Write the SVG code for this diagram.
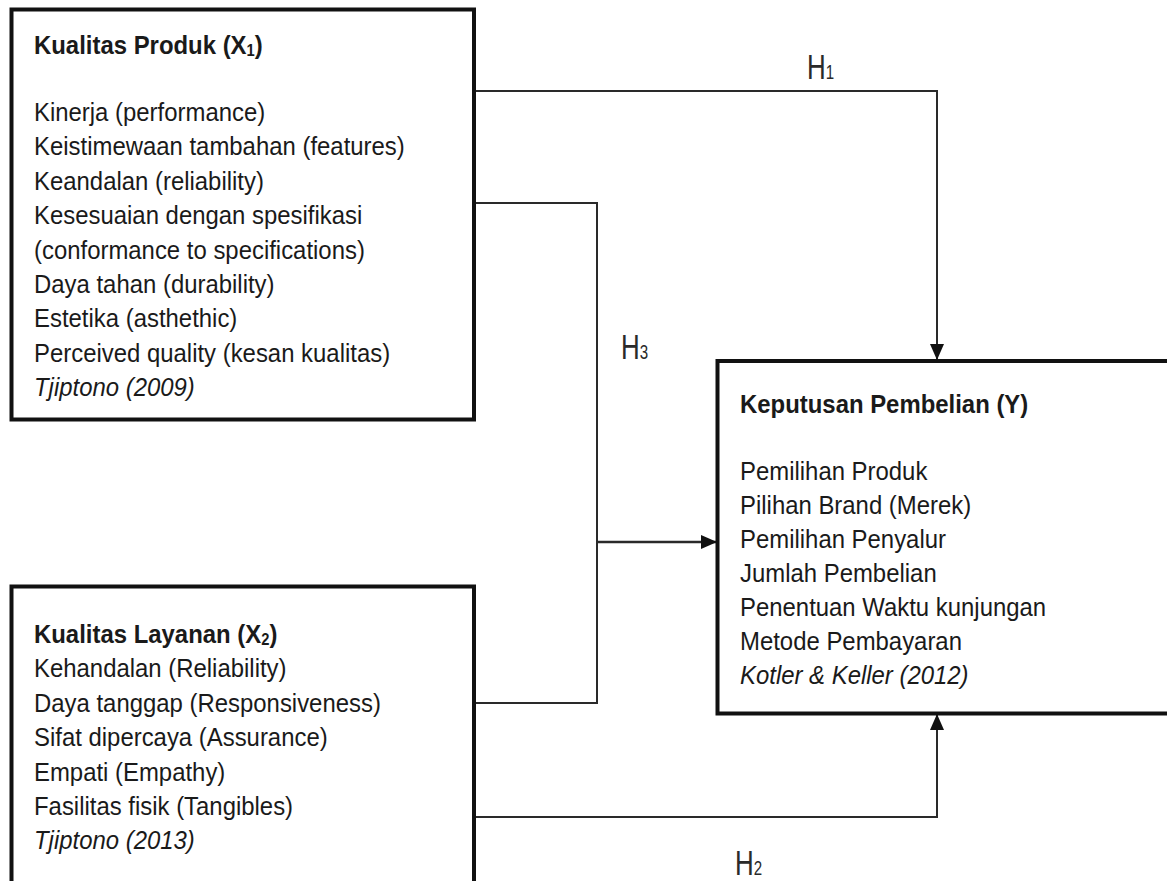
<svg xmlns="http://www.w3.org/2000/svg" width="1167" height="881" viewBox="0 0 1167 881">
<defs>
<style>
.box{fill:#fff;stroke:#111;stroke-width:4}
.t{font-family:"Liberation Sans",Arial,sans-serif;font-size:26px;fill:#1a1a1a}
.b{font-weight:bold}
.i{font-style:italic}
.sub{font-size:16px}
.conn{fill:none;stroke:#2a2a2a;stroke-width:2}
.h{font-family:"Liberation Sans",Arial,sans-serif;font-size:36px;fill:#2a2a2a}
.hs{font-size:21px}
</style>
<marker id="arr" markerUnits="userSpaceOnUse" markerWidth="16" markerHeight="14" viewBox="0 0 16 14" refX="15" refY="7" orient="auto">
<path d="M0,0 L16,7 L0,14 z" fill="#111"/>
</marker>
</defs>
<rect width="1167" height="881" fill="#fff"/>

<g id="connectors">
<path class="conn" d="M474,91 H937 V359" marker-end="url(#arr)"/>
<path class="conn" d="M474,203 H597 V703 H474"/>
<path class="conn" d="M597,542 H716" marker-end="url(#arr)" style="stroke-width:2.5"/>
<path class="conn" d="M474,817 H937 V715" marker-end="url(#arr)"/>
<g transform="translate(807,79) scale(0.72,1)"><text class="h" x="0" y="0">H<tspan class="hs">1</tspan></text></g>
<g transform="translate(621,359) scale(0.72,1)"><text class="h" x="0" y="0">H<tspan class="hs">3</tspan></text></g>
<g transform="translate(735,875) scale(0.72,1)"><text class="h" x="0" y="0">H<tspan class="hs">2</tspan></text></g>
</g>

<g id="x1">
<rect class="box" x="11.5" y="9.5" width="462.5" height="410"/>
<g transform="translate(34,0) scale(0.92,1)">
<text class="t b" x="0" y="54">Kualitas Produk (X<tspan class="sub" dy="2">1</tspan><tspan dy="-2">)</tspan></text>
<text class="t" x="0" y="121">Kinerja (performance)</text>
<text class="t" x="0" y="155.4">Keistimewaan tambahan (features)</text>
<text class="t" x="0" y="189.8">Keandalan (reliability)</text>
<text class="t" x="0" y="224.2">Kesesuaian dengan spesifikasi</text>
<text class="t" x="0" y="258.6">(conformance to specifications)</text>
<text class="t" x="0" y="293">Daya tahan (durability)</text>
<text class="t" x="0" y="327.4">Estetika (asthethic)</text>
<text class="t" x="0" y="361.8">Perceived quality (kesan kualitas)</text>
<text class="t i" x="0" y="396.2">Tjiptono (2009)</text>
</g>
</g>

<g id="x2">
<rect class="box" x="11.5" y="586.5" width="462.5" height="320"/>
<g transform="translate(34,0) scale(0.92,1)">
<text class="t b" x="0" y="643">Kualitas Layanan (X<tspan class="sub" dy="2">2</tspan><tspan dy="-2">)</tspan></text>
<text class="t" x="0" y="677.4">Kehandalan (Reliability)</text>
<text class="t" x="0" y="711.8">Daya tanggap (Responsiveness)</text>
<text class="t" x="0" y="746.2">Sifat dipercaya (Assurance)</text>
<text class="t" x="0" y="780.6">Empati (Empathy)</text>
<text class="t" x="0" y="815">Fasilitas fisik (Tangibles)</text>
<text class="t i" x="0" y="849.4">Tjiptono (2013)</text>
</g>
</g>

<g id="y">
<rect class="box" x="717.5" y="361" width="470" height="352.5"/>
<g transform="translate(740,0) scale(0.92,1)">
<text class="t b" x="0" y="413">Keputusan Pembelian (Y)</text>
<text class="t" x="0" y="480">Pemilihan Produk</text>
<text class="t" x="0" y="514">Pilihan Brand (Merek)</text>
<text class="t" x="0" y="548">Pemilihan Penyalur</text>
<text class="t" x="0" y="582">Jumlah Pembelian</text>
<text class="t" x="0" y="616">Penentuan Waktu kunjungan</text>
<text class="t" x="0" y="650">Metode Pembayaran</text>
<text class="t i" x="0" y="684">Kotler &amp; Keller (2012)</text>
</g>
</g>
</svg>
